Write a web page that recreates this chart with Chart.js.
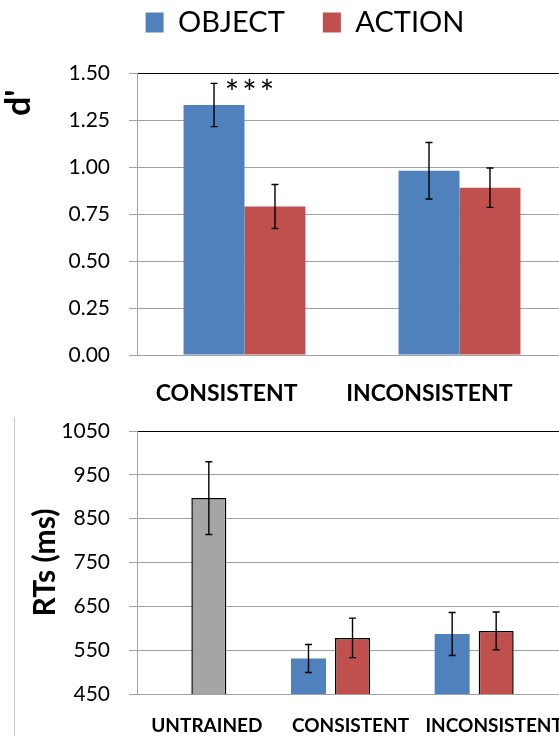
<!DOCTYPE html>
<html><head><meta charset="utf-8">
<script src="https://cdn.jsdelivr.net/npm/chart.js@4.4.1/dist/chart.umd.min.js"></script>
<style>
html,body{margin:0;padding:0;background:#fff;overflow:hidden;width:559px;height:736px;}
#wrap{position:relative;width:559px;height:736px;overflow:hidden;background:#fff;}
#c1box{position:absolute;left:0;top:-30px;}
#c2box{position:absolute;left:0;top:410px;}
#frame{position:absolute;left:14px;top:417px;width:1px;height:319px;background:#c8c8c8;}
canvas{display:block;}
</style></head><body>
<div id="wrap">
<div id="frame"></div>
<div id="c1box"><canvas id="c1" width="610" height="440"></canvas></div>
<div id="c2box"><canvas id="c2" width="568" height="326"></canvas></div>
</div>
<script>
// ---- data: top chart (d') ----
const categoriesTop = ['CONSISTENT', 'INCONSISTENT'];
const objectDprime = [1.33, 0.98];
const objectDprimeErr = [0.115, 0.15];
const actionDprime = [0.79, 0.89];
const actionDprimeErr = [0.117, 0.105];
const sigMarksObject = ['***', ''];
const yTicksTop = ['0.00', '0.25', '0.50', '0.75', '1.00', '1.25', '1.50'];

// ---- data: bottom chart (RTs) ----
const categoriesBottom = ['UNTRAINED', 'CONSISTENT', 'INCONSISTENT'];
const untrainedRT = [897, null, null];
const untrainedRTErr = [83, null, null];
const objectRT = [null, 531, 587];
const objectRTErr = [null, 32, 49];
const actionRT = [null, 578, 594];
const actionRTErr = [null, 45, 43];
const yTicksBottom = ['450', '550', '650', '750', '850', '950', '1050'];

const BLUE = '#4f81bd', RED = '#c0504d', GRAY = '#a5a5a5', GRID = '#a0a0a0';
Chart.defaults.font.family = 'Lato, "Open Sans", sans-serif';
Chart.defaults.color = '#000';

function legendGap(extra) {
  return { id: 'legendGap', beforeInit(chart) {
    const orig = chart.legend.fit;
    chart.legend.fit = function () { orig.call(this); this.height += extra; };
  }};
}

const errorBars = {
  id: 'errorBars',
  afterDatasetsDraw(chart) {
    const ctx = chart.ctx, y = chart.scales.y;
    chart.data.datasets.forEach((ds, i) => {
      if (!ds.errors) return;
      const meta = chart.getDatasetMeta(i);
      meta.data.forEach((bar, j) => {
        const v = ds.data[j], e = ds.errors[j];
        if (v == null || e == null) return;
        const x = bar.x, yt = y.getPixelForValue(v + e), yb = y.getPixelForValue(v - e), c = 3.5;
        ctx.save();
        ctx.strokeStyle = '#000'; ctx.lineWidth = 1.4;
        ctx.beginPath();
        ctx.moveTo(x, yt); ctx.lineTo(x, yb);
        ctx.moveTo(x - c, yt); ctx.lineTo(x + c, yt);
        ctx.moveTo(x - c, yb); ctx.lineTo(x + c, yb);
        ctx.stroke();
        ctx.restore();
      });
    });
  }
};

const sigMarks = {
  id: 'sigMarks',
  afterDatasetsDraw(chart) {
    const ctx = chart.ctx, y = chart.scales.y;
    chart.data.datasets.forEach((ds, i) => {
      if (!ds.marks) return;
      const meta = chart.getDatasetMeta(i);
      meta.data.forEach((bar, j) => {
        const m = ds.marks[j];
        if (!m) return;
        const top = y.getPixelForValue(ds.data[j] + (ds.errors ? ds.errors[j] : 0));
        ctx.save();
        ctx.fillStyle = '#000';
        ctx.font = '34px Lato, "Open Sans", sans-serif';
        ctx.letterSpacing = '3px';
        ctx.textAlign = 'center';
        ctx.textBaseline = 'middle';
        ctx.fillText(m, bar.x + 37, top + 11);
        ctx.restore();
      });
    });
  }
};

function noPad(s) { s.paddingLeft = 0; s.paddingRight = 0; s.paddingTop = 0; s.paddingBottom = 0; }

new Chart(document.getElementById('c1'), {
  type: 'bar',
  data: {
    labels: categoriesTop,
    datasets: [
      { label: 'OBJECT', data: objectDprime, errors: objectDprimeErr, marks: sigMarksObject, backgroundColor: BLUE, borderWidth: 0 },
      { label: 'ACTION', data: actionDprime, errors: actionDprimeErr, backgroundColor: RED, borderWidth: 0 }
    ]
  },
  options: {
    responsive: false, animation: false,
    layout: { padding: { left: 43, right: 43, top: 0, bottom: 0 } },
    datasets: { bar: { categoryPercentage: 0.567, barPercentage: 1 } },
    plugins: {
      legend: { display: true, position: 'top',
        labels: { boxWidth: 18, boxHeight: 20, padding: 38, color: '#000', font: { size: 29 } } },
      tooltip: { enabled: false }
    },
    scales: {
      x: {
        grid: { display: false, drawTicks: false },
        border: { display: true, color: GRID },
        ticks: { align: 'end', labelOffset: 53, padding: 25, maxRotation: 0, minRotation: 0, autoSkip: false,
          color: '#000', font: { size: 23, weight: 'bold' } },
        afterFit(s) { s.height = 55; noPad(s); }
      },
      y: {
        min: 0, max: 1.5,
        ticks: { stepSize: 0.25, padding: 19, color: '#000', font: { size: 21 }, callback: (v, i) => yTicksTop[i] },
        grid: { color: c => (c.tick && c.tick.value === 1.5 ? '#000' : GRID), tickColor: GRID, lineWidth: 1, tickLength: 8 },
        border: { color: GRID },
        title: { display: true, text: "d'  ", align: 'end', color: '#000', font: { size: 34, weight: 'bold' }, padding: { top: -44 } },
        afterFit(s) { s.width = 94; noPad(s); }
      }
    }
  },
  plugins: [legendGap(26), errorBars, sigMarks]
});

new Chart(document.getElementById('c2'), {
  type: 'bar',
  data: {
    labels: categoriesBottom,
    datasets: [
      { label: 'OBJECT', data: objectRT, errors: objectRTErr, backgroundColor: BLUE, borderWidth: 0, stack: 's1' },
      { label: 'UNTRAINED', data: untrainedRT, errors: untrainedRTErr, backgroundColor: GRAY, borderColor: '#000', borderWidth: 1.5, borderSkipped: false, stack: 's2' },
      { label: 'ACTION', data: actionRT, errors: actionRTErr, backgroundColor: RED, borderColor: '#000', borderWidth: 1.5, borderSkipped: false, stack: 's2' },
      { label: '', data: [null, null, null], stack: 's3' }
    ]
  },
  options: {
    responsive: false, animation: false,
    layout: { padding: { left: 0, right: 0, top: 21, bottom: 0 } },
    datasets: { bar: { categoryPercentage: 0.919, barPercentage: 0.795 } },
    plugins: { legend: { display: false }, tooltip: { enabled: false } },
    scales: {
      x: {
        grid: { display: false, drawTicks: false },
        border: { display: true, color: GRID },
        ticks: { padding: 20, labelOffset: -2, maxRotation: 0, minRotation: 0, autoSkip: false,
          color: '#000', font: { size: 19, weight: 'bold' } },
        afterFit(s) { s.height = 42; noPad(s); }
      },
      y: {
        stacked: false,
        min: 450, max: 1050,
        ticks: { stepSize: 100, padding: 19, color: '#000', font: { size: 21 }, callback: (v, i) => yTicksBottom[i] },
        grid: { color: c => (c.tick && c.tick.value === 1050 ? '#000' : GRID), tickColor: GRID, lineWidth: 1, tickLength: 8 },
        border: { color: GRID },
        title: { display: true, text: 'RTs (ms)', align: 'center', color: '#000', font: { size: 30, weight: 'bold' }, padding: { top: 27 } },
        afterFit(s) { s.width = 137; noPad(s); }
      }
    }
  },
  plugins: [errorBars]
});
</script>
</body></html>
